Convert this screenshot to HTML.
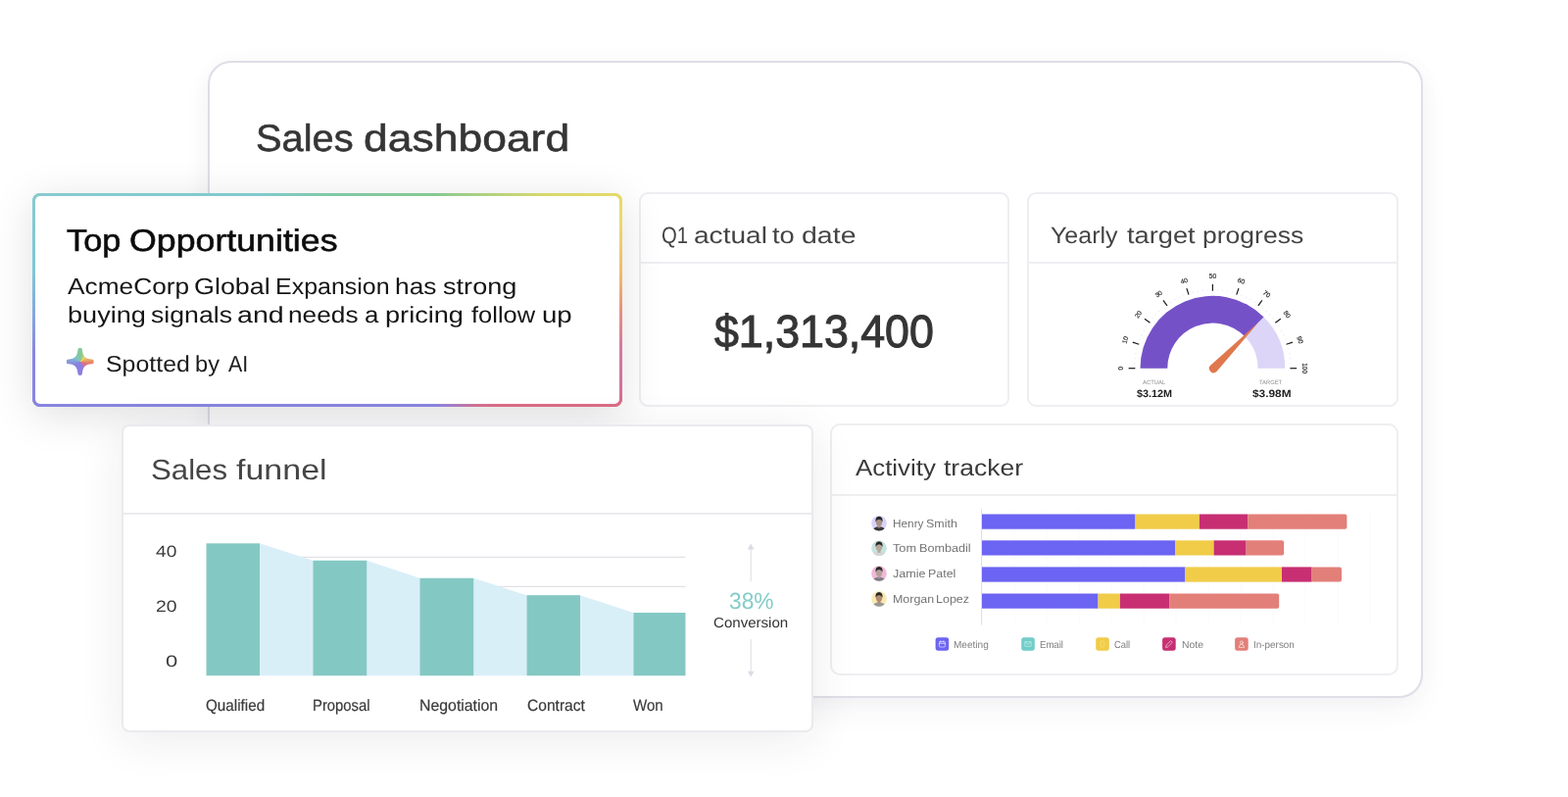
<!DOCTYPE html>
<html lang="en">
<head>
<meta charset="utf-8">
<title>Sales dashboard</title>
<style>
*{box-sizing:border-box;margin:0;padding:0}
html,body{width:1600px;height:813px;overflow:hidden;background:#fff}
body{font-family:"Liberation Sans",sans-serif;position:relative}
#stage{position:absolute;left:0;top:0;width:1600px;height:813px;overflow:hidden;background:#fff}
.t{position:absolute;white-space:pre;line-height:1;font-weight:400;transform-origin:0 0;font-family:"Liberation Sans",sans-serif;text-rendering:geometricPrecision}
.t span{position:relative;display:inline-block;white-space:pre;transform-origin:0 0}
.card{position:absolute;background:#fff;border:2px solid #eeeef2}
.hr{position:absolute;left:0;right:0;height:2px;background:#efeff2}
svg{position:absolute;left:0;top:0;overflow:visible}
svg text{font-family:"Liberation Sans",sans-serif}
#main{left:212.1px;top:61.7px;width:1239.6px;height:650.8px;border:2px solid #dedee7;border-radius:24px;box-shadow:0 12px 34px -6px rgba(50,50,90,.075),0 0 26px rgba(50,50,90,.022)}
#q1{left:652.4px;top:195.9px;width:378px;height:218.9px;border-radius:9px}
#yt{left:1047.9px;top:195.9px;width:379.1px;height:218.9px;border-radius:9px}
#at{left:847.4px;top:432.4px;width:579.3px;height:256.2px;border-radius:10px}
#sf{left:124.2px;top:432.5px;width:705.7px;height:314.4px;border-radius:8px;border-color:#eaeaee;box-shadow:0 8px 46px rgba(30,30,50,.085)}
#top{position:absolute;left:32.9px;top:197px;width:602.2px;height:218px;border-radius:8px;overflow:visible;
 box-shadow:0 8px 44px rgba(10,10,20,.125)}
#top b{position:absolute;display:block}
#top .bd{position:absolute;left:0;top:0;right:0;bottom:0;border-radius:8px;overflow:hidden;display:block}
#top .l{left:0;top:0;bottom:0;width:50%;background:linear-gradient(180deg,#86cbd0 0%,#80c6d6 36%,#84a6de 58%,#8886e2 74%,#8884e0 100%)}
#top .r{right:0;top:0;bottom:0;width:50%;background:linear-gradient(180deg,#e4da6a 0%,#eed86c 14%,#ecb86e 40%,#e6907e 55%,#d878a0 72%,#d272a0 88%,#da6c84 100%)}
#top .tp{left:0;top:0;right:0;height:8px;background:linear-gradient(90deg,#86cbd0 0%,#80cacf 38%,#80c9a6 50%,#86c992 68%,#b0d27e 77%,#d8d86c 87%,#e4da6a 100%)}
#top .bt{left:0;bottom:0;right:0;height:8px;background:linear-gradient(90deg,#8884e0 0%,#8a84e0 68%,#a87cc4 71.5%,#d07094 75%,#dc6c84 80%,#da6c84 100%)}
#top i{position:absolute;left:3px;top:3px;right:3px;bottom:3px;background:#fff;border-radius:5px;display:block}
#spark{position:absolute;left:67.6px;top:354.8px;width:28.2px;height:28.2px;
 background:conic-gradient(from 0deg at 50% 50%, #82c898 0deg, #9ccc88 18deg, #ecd466 45deg, #eab062 68deg, #e89a62 85deg, #e27c72 98deg, #dc7082 118deg, #c274a8 142deg, #8c7ee0 162deg, #8682e0 235deg, #8892e0 265deg, #82b4d2 290deg, #80c4c0 318deg, #82c8a4 345deg, #82c898 360deg);
 clip-path:path('M11.80 2.30 A2.3 2.3 0 0 1 16.40 2.30 C17.10 8.90 19.30 11.10 25.90 11.80 A2.3 2.3 0 0 1 25.90 16.40 C19.30 17.10 17.10 19.30 16.40 25.90 A2.3 2.3 0 0 1 11.80 25.90 C11.10 19.30 8.90 17.10 2.30 16.40 A2.3 2.3 0 0 1 2.30 11.80 C8.90 11.10 11.10 8.90 11.80 2.30 Z')}
</style>
</head>
<body>
<div id="stage">
<main>
<div class="card" id="main"></div>
<h1 class="t" style="left:0;top:123px;font-size:38.5px;color:#353535;-webkit-text-stroke:0.55px #353535;"><span style="left:260.76px;transform:scaleX(1.0337)">Sales </span><span style="left:263.69px;transform:scaleX(1.1550)">dashboard</span></h1>
<section aria-label="Q1 actual to date">
<div class="card" id="q1"><div class="hr" style="top:69px"></div></div>
<h2 class="t" style="left:0;top:230px;font-size:23.6px;color:#444;"><span style="left:674.89px;transform:scaleX(0.8600)">Q1 </span><span style="left:669.88px;transform:scaleX(1.1906)">actual </span><span style="left:680.59px;transform:scaleX(1.1576)">to </span><span style="left:683.73px;transform:scaleX(1.2084)">date</span></h2>
<div class="t" style="left:729.20px;top:315px;font-size:46.5px;color:#353535;-webkit-text-stroke:1.1px #353535;transform:scaleX(0.9617);">$1,313,400</div>
</section>
<section aria-label="Yearly target progress">
<div class="card" id="yt"><div class="hr" style="top:69px"></div></div>
<h2 class="t" style="left:0;top:230px;font-size:23.6px;color:#444;"><span style="left:1071.91px;transform:scaleX(1.0592)">Yearly </span><span style="left:1078.38px;transform:scaleX(1.1545)">target </span><span style="left:1088.44px;transform:scaleX(1.1241)">progress</span></h2>
<svg width="1600" height="813" viewBox="0 0 1600 813"><path d="M1163.50 375.70 A73.9 73.9 0 0 1 1289.66 323.44 L1270.00 343.10 A46.1 46.1 0 0 0 1191.30 375.70 Z" fill="#7551c8"/><path d="M1289.66 323.44 A73.9 73.9 0 0 1 1311.30 375.70 L1283.50 375.70 A46.1 46.1 0 0 0 1270.00 343.10 Z" fill="#dcd5f8"/><line x1="1158.40" y1="375.70" x2="1151.60" y2="375.70" stroke="#1a1a1a" stroke-width="1.2"/><circle cx="1157.56" cy="370.68" r="0.6" fill="#e4e4f0"/><circle cx="1158.03" cy="365.67" r="0.6" fill="#e4e4f0"/><circle cx="1158.82" cy="360.71" r="0.6" fill="#e4e4f0"/><circle cx="1159.91" cy="355.80" r="0.6" fill="#e4e4f0"/><line x1="1162.27" y1="351.29" x2="1155.80" y2="349.19" stroke="#1a1a1a" stroke-width="1.2"/><circle cx="1163.02" cy="346.25" r="0.6" fill="#e4e4f0"/><circle cx="1165.01" cy="341.64" r="0.6" fill="#e4e4f0"/><circle cx="1167.30" cy="337.16" r="0.6" fill="#e4e4f0"/><circle cx="1169.85" cy="332.83" r="0.6" fill="#e4e4f0"/><line x1="1173.49" y1="329.26" x2="1167.99" y2="325.27" stroke="#1a1a1a" stroke-width="1.2"/><circle cx="1175.76" cy="324.71" r="0.6" fill="#e4e4f0"/><circle cx="1179.08" cy="320.94" r="0.6" fill="#e4e4f0"/><circle cx="1182.64" cy="317.38" r="0.6" fill="#e4e4f0"/><circle cx="1186.41" cy="314.06" r="0.6" fill="#e4e4f0"/><line x1="1190.96" y1="311.79" x2="1186.97" y2="306.29" stroke="#1a1a1a" stroke-width="1.2"/><circle cx="1194.53" cy="308.15" r="0.6" fill="#e4e4f0"/><circle cx="1198.86" cy="305.60" r="0.6" fill="#e4e4f0"/><circle cx="1203.34" cy="303.31" r="0.6" fill="#e4e4f0"/><circle cx="1207.95" cy="301.32" r="0.6" fill="#e4e4f0"/><line x1="1212.99" y1="300.57" x2="1210.89" y2="294.10" stroke="#1a1a1a" stroke-width="1.2"/><circle cx="1217.50" cy="298.21" r="0.6" fill="#e4e4f0"/><circle cx="1222.41" cy="297.12" r="0.6" fill="#e4e4f0"/><circle cx="1227.37" cy="296.33" r="0.6" fill="#e4e4f0"/><circle cx="1232.38" cy="295.86" r="0.6" fill="#e4e4f0"/><line x1="1237.40" y1="296.70" x2="1237.40" y2="289.90" stroke="#1a1a1a" stroke-width="1.2"/><circle cx="1242.42" cy="295.86" r="0.6" fill="#e4e4f0"/><circle cx="1247.43" cy="296.33" r="0.6" fill="#e4e4f0"/><circle cx="1252.39" cy="297.12" r="0.6" fill="#e4e4f0"/><circle cx="1257.30" cy="298.21" r="0.6" fill="#e4e4f0"/><line x1="1261.81" y1="300.57" x2="1263.91" y2="294.10" stroke="#1a1a1a" stroke-width="1.2"/><circle cx="1266.85" cy="301.32" r="0.6" fill="#e4e4f0"/><circle cx="1271.46" cy="303.31" r="0.6" fill="#e4e4f0"/><circle cx="1275.94" cy="305.60" r="0.6" fill="#e4e4f0"/><circle cx="1280.27" cy="308.15" r="0.6" fill="#e4e4f0"/><line x1="1283.84" y1="311.79" x2="1287.83" y2="306.29" stroke="#1a1a1a" stroke-width="1.2"/><circle cx="1288.39" cy="314.06" r="0.6" fill="#e4e4f0"/><circle cx="1292.16" cy="317.38" r="0.6" fill="#e4e4f0"/><circle cx="1295.72" cy="320.94" r="0.6" fill="#e4e4f0"/><circle cx="1299.04" cy="324.71" r="0.6" fill="#e4e4f0"/><line x1="1301.31" y1="329.26" x2="1306.81" y2="325.27" stroke="#1a1a1a" stroke-width="1.2"/><circle cx="1304.95" cy="332.83" r="0.6" fill="#e4e4f0"/><circle cx="1307.50" cy="337.16" r="0.6" fill="#e4e4f0"/><circle cx="1309.79" cy="341.64" r="0.6" fill="#e4e4f0"/><circle cx="1311.78" cy="346.25" r="0.6" fill="#e4e4f0"/><line x1="1312.53" y1="351.29" x2="1319.00" y2="349.19" stroke="#1a1a1a" stroke-width="1.2"/><circle cx="1314.89" cy="355.80" r="0.6" fill="#e4e4f0"/><circle cx="1315.98" cy="360.71" r="0.6" fill="#e4e4f0"/><circle cx="1316.77" cy="365.67" r="0.6" fill="#e4e4f0"/><circle cx="1317.24" cy="370.68" r="0.6" fill="#e4e4f0"/><line x1="1316.40" y1="375.70" x2="1323.20" y2="375.70" stroke="#1a1a1a" stroke-width="1.2"/><text x="1145.90" y="375.70" font-size="6.6" fill="#1c1c1c" stroke="#1c1c1c" stroke-width="0.15" text-anchor="middle" transform="rotate(-90.0 1145.90 375.70)">0</text><text x="1150.38" y="347.42" font-size="6.6" fill="#1c1c1c" stroke="#1c1c1c" stroke-width="0.15" text-anchor="middle" transform="rotate(-72.0 1150.38 347.42)">10</text><text x="1163.37" y="321.92" font-size="6.6" fill="#1c1c1c" stroke="#1c1c1c" stroke-width="0.15" text-anchor="middle" transform="rotate(-54.0 1163.37 321.92)">20</text><text x="1183.62" y="301.67" font-size="6.6" fill="#1c1c1c" stroke="#1c1c1c" stroke-width="0.15" text-anchor="middle" transform="rotate(-36.0 1183.62 301.67)">30</text><text x="1209.12" y="288.68" font-size="6.6" fill="#1c1c1c" stroke="#1c1c1c" stroke-width="0.15" text-anchor="middle" transform="rotate(-18.0 1209.12 288.68)">40</text><text x="1237.40" y="284.20" font-size="6.6" fill="#1c1c1c" stroke="#1c1c1c" stroke-width="0.15" text-anchor="middle" transform="rotate(0.0 1237.40 284.20)">50</text><text x="1265.68" y="288.68" font-size="6.6" fill="#1c1c1c" stroke="#1c1c1c" stroke-width="0.15" text-anchor="middle" transform="rotate(18.0 1265.68 288.68)">60</text><text x="1291.18" y="301.67" font-size="6.6" fill="#1c1c1c" stroke="#1c1c1c" stroke-width="0.15" text-anchor="middle" transform="rotate(36.0 1291.18 301.67)">70</text><text x="1311.43" y="321.92" font-size="6.6" fill="#1c1c1c" stroke="#1c1c1c" stroke-width="0.15" text-anchor="middle" transform="rotate(54.0 1311.43 321.92)">80</text><text x="1324.42" y="347.42" font-size="6.6" fill="#1c1c1c" stroke="#1c1c1c" stroke-width="0.15" text-anchor="middle" transform="rotate(72.0 1324.42 347.42)">90</text><text x="1328.90" y="375.70" font-size="6.6" fill="#1c1c1c" stroke="#1c1c1c" stroke-width="0.15" text-anchor="middle" transform="rotate(90.0 1328.90 375.70)">100</text><path d="M1241.48 379.08 A4.5 4.5 0 0 1 1235.12 372.72 L1284.07 329.03 Z" fill="#e0784e"/></svg>
<div class="t" style="left:1165.52px;top:388px;font-size:6.1px;color:#909090;transform:scaleX(0.9688);">ACTUAL</div>
<div class="t" style="left:1159.89px;top:397px;font-size:10.6px;color:#1e1e1e;font-weight:700;transform:scaleX(1.0219);">$3.12M</div>
<div class="t" style="left:1285.49px;top:388px;font-size:6.1px;color:#909090;transform:scaleX(0.9538);">TARGET</div>
<div class="t" style="left:1277.73px;top:397px;font-size:10.6px;color:#1e1e1e;font-weight:700;transform:scaleX(1.1190);">$3.98M</div>
</section>
<section aria-label="Activity tracker">
<div class="card" id="at"><div class="hr" style="top:69.2px"></div></div>
<h2 class="t" style="left:0;top:466px;font-size:23.4px;color:#3a3a3a;"><span style="left:872.50px;transform:scaleX(1.1058)">Activity </span><span style="left:882.10px;transform:scaleX(1.1332)">tracker</span></h2>
<svg width="1600" height="813" viewBox="0 0 1600 813"><line x1="1001.6" y1="519.5" x2="1001.6" y2="637.5" stroke="#dcdce4" stroke-width="1"/><line x1="1035" y1="519.5" x2="1035" y2="637.5" stroke="#fafafd" stroke-width="1"/><line x1="1068" y1="519.5" x2="1068" y2="637.5" stroke="#fafafd" stroke-width="1"/><line x1="1101" y1="519.5" x2="1101" y2="637.5" stroke="#fafafd" stroke-width="1"/><line x1="1134" y1="519.5" x2="1134" y2="637.5" stroke="#fafafd" stroke-width="1"/><line x1="1167" y1="519.5" x2="1167" y2="637.5" stroke="#fafafd" stroke-width="1"/><line x1="1200" y1="519.5" x2="1200" y2="637.5" stroke="#fafafd" stroke-width="1"/><line x1="1233" y1="519.5" x2="1233" y2="637.5" stroke="#fafafd" stroke-width="1"/><line x1="1266" y1="519.5" x2="1266" y2="637.5" stroke="#fafafd" stroke-width="1"/><line x1="1299" y1="519.5" x2="1299" y2="637.5" stroke="#fafafd" stroke-width="1"/><line x1="1332" y1="519.5" x2="1332" y2="637.5" stroke="#fafafd" stroke-width="1"/><line x1="1365" y1="519.5" x2="1365" y2="637.5" stroke="#fafafd" stroke-width="1"/><line x1="1398" y1="519.5" x2="1398" y2="637.5" stroke="#fafafd" stroke-width="1"/><rect x="1002.0" y="524.5" width="156.5" height="15.2" fill="#6c64f2"/><rect x="1158.5" y="524.5" width="65.4" height="15.2" fill="#f0cc48"/><rect x="1223.9" y="524.5" width="49.3" height="15.2" fill="#c72f72"/><path d="M1273.2 524.5 H1372.4 a2 2 0 0 1 2 2 V537.7 a2 2 0 0 1 -2 2 H1273.2 Z" fill="#e37f79"/><g><clipPath id="av524"><circle cx="897" cy="533.7" r="7.8"/></clipPath><circle cx="897" cy="533.7" r="7.8" fill="#d9d2fa"/><g clip-path="url(#av524)"><ellipse cx="897" cy="542.3" rx="6.8" ry="5.2" fill="#38383c"/><rect x="895.5" y="534.7" width="3" height="3.6" fill="#a89486"/><ellipse cx="897" cy="532.6" rx="3.2" ry="4" fill="#a89486"/><path d="M893.5 532.5 q-0.6 -5.6 3.5 -5.8 q4.1 0.2 3.5 5.8 q-0.9 -2.6 -3.5 -2.7 q-2.6 0.1 -3.5 2.7z" fill="#28282a"/></g></g><rect x="1002.0" y="551.3" width="197.4" height="15.2" fill="#6c64f2"/><rect x="1199.4" y="551.3" width="39.2" height="15.2" fill="#f0cc48"/><rect x="1238.6" y="551.3" width="33.0" height="15.2" fill="#c72f72"/><path d="M1271.6 551.3 H1308.1 a2 2 0 0 1 2 2 V564.5 a2 2 0 0 1 -2 2 H1271.6 Z" fill="#e37f79"/><g><clipPath id="av551"><circle cx="897" cy="559.2" r="7.8"/></clipPath><circle cx="897" cy="559.2" r="7.8" fill="#c4e4e0"/><g clip-path="url(#av551)"><ellipse cx="897" cy="567.8" rx="6.8" ry="5.2" fill="#d4d4d6"/><rect x="895.5" y="560.2" width="3" height="3.6" fill="#b8a69a"/><ellipse cx="897" cy="558.1" rx="3.2" ry="4" fill="#b8a69a"/><path d="M893.5 558.0 q-0.6 -5.6 3.5 -5.8 q4.1 0.2 3.5 5.8 q-0.9 -2.6 -3.5 -2.7 q-2.6 0.1 -3.5 2.7z" fill="#28282a"/></g></g><rect x="1002.0" y="578.4" width="207.4" height="15.2" fill="#6c64f2"/><rect x="1209.4" y="578.4" width="98.6" height="15.2" fill="#f0cc48"/><rect x="1308.0" y="578.4" width="30.6" height="15.2" fill="#c72f72"/><path d="M1338.6 578.4 H1367.0 a2 2 0 0 1 2 2 V591.6 a2 2 0 0 1 -2 2 H1338.6 Z" fill="#e37f79"/><g><clipPath id="av578"><circle cx="897" cy="585.0" r="7.8"/></clipPath><circle cx="897" cy="585.0" r="7.8" fill="#f0b8d8"/><g clip-path="url(#av578)"><ellipse cx="897" cy="593.6" rx="6.8" ry="5.2" fill="#7c7c82"/><rect x="895.5" y="586.0" width="3" height="3.6" fill="#b4a298"/><ellipse cx="897" cy="583.9" rx="3.2" ry="4" fill="#b4a298"/><path d="M893.5 583.8 q-0.6 -5.6 3.5 -5.8 q4.1 0.2 3.5 5.8 q-0.9 -2.6 -3.5 -2.7 q-2.6 0.1 -3.5 2.7z" fill="#28282a"/></g></g><rect x="1002.0" y="605.5" width="118.5" height="15.2" fill="#6c64f2"/><rect x="1120.5" y="605.5" width="22.4" height="15.2" fill="#f0cc48"/><rect x="1142.9" y="605.5" width="50.2" height="15.2" fill="#c72f72"/><path d="M1193.1 605.5 H1303.2 a2 2 0 0 1 2 2 V618.7 a2 2 0 0 1 -2 2 H1193.1 Z" fill="#e37f79"/><g><clipPath id="av605"><circle cx="897" cy="610.9" r="7.8"/></clipPath><circle cx="897" cy="610.9" r="7.8" fill="#f8eab0"/><g clip-path="url(#av605)"><ellipse cx="897" cy="619.5" rx="6.8" ry="5.2" fill="#98989c"/><rect x="895.5" y="611.9" width="3" height="3.6" fill="#b08c70"/><ellipse cx="897" cy="609.8" rx="3.2" ry="4" fill="#b08c70"/><path d="M893.5 609.7 q-0.6 -5.6 3.5 -5.8 q4.1 0.2 3.5 5.8 q-0.9 -2.6 -3.5 -2.7 q-2.6 0.1 -3.5 2.7z" fill="#28282a"/></g></g></svg>
<div class="t" style="left:0;top:529px;font-size:11.8px;color:#747474;"><span style="left:910.50px;transform:scaleX(1.0007)">Henry </span><span style="left:910.31px;transform:scaleX(1.0575)">Smith</span></div>
<div class="t" style="left:0;top:554px;font-size:11.8px;color:#747474;"><span style="left:910.90px;transform:scaleX(1.0790)">Tom </span><span style="left:912.42px;transform:scaleX(1.0705)">Bombadil</span></div>
<div class="t" style="left:0;top:580px;font-size:11.8px;color:#747474;"><span style="left:910.83px;transform:scaleX(1.0630)">Jamie </span><span style="left:911.75px;transform:scaleX(1.0526)">Patel</span></div>
<div class="t" style="left:0;top:606px;font-size:11.8px;color:#747474;"><span style="left:910.50px;transform:scaleX(1.0532)">Morgan </span><span style="left:911.72px;transform:scaleX(1.0577)">Lopez</span></div>
<svg width="1600" height="813" viewBox="0 0 1600 813" fill="none" stroke="rgba(255,255,255,.72)" stroke-width="0.8" stroke-linecap="round" stroke-linejoin="round"><rect x="954.6" y="650.2" width="13.6" height="13.5" rx="2.6" fill="#6c64f2" stroke="none"/><rect x="958.4" y="654.6" width="6" height="5.4" rx="0.8"/><path d="M958.4 656.4h6M959.9 653.7v1.6M962.9 653.7v1.6"/><rect x="1042.2" y="650.2" width="13.6" height="13.5" rx="2.6" fill="#72cdc7" stroke="none"/><rect x="1045.8" y="654.7" width="6.4" height="4.6" rx="0.6" stroke="#b9ece8"/><path d="M1046.0 655.0l3 2.2l3 -2.2" stroke="#b9ece8"/><rect x="1118.2" y="650.2" width="13.6" height="13.5" rx="2.6" fill="#f0cc48" stroke="none"/><rect x="1123.2" y="654.0" width="3.6" height="6" rx="0.7" stroke="#f6dc7c"/><rect x="1186.1" y="650.2" width="13.6" height="13.5" rx="2.6" fill="#c72f72" stroke="none"/><path d="M1189.7 660.2l0.5 -2.2l4.4 -4.4l1.7 1.7l-4.4 4.4z"/><rect x="1260.1" y="650.2" width="13.6" height="13.5" rx="2.6" fill="#e37f79" stroke="none"/><circle cx="1266.9" cy="655.4" r="1.5"/><path d="M1264.3 660.0q0 -2.8 2.6 -2.8q2.6 0 2.6 2.8z"/></svg>
<div class="t" style="left:973.33px;top:654px;font-size:10.3px;color:#808080;transform:scaleX(0.9756);">Meeting</div>
<div class="t" style="left:1061.49px;top:654px;font-size:10.3px;color:#808080;transform:scaleX(0.9302);">Email</div>
<div class="t" style="left:1137.27px;top:654px;font-size:10.3px;color:#808080;transform:scaleX(0.9106);">Call</div>
<div class="t" style="left:1205.70px;top:654px;font-size:10.3px;color:#808080;transform:scaleX(1.0161);">Note</div>
<div class="t" style="left:1278.89px;top:654px;font-size:10.3px;color:#808080;transform:scaleX(0.9625);">In-person</div>
</section>
<section aria-label="Top Opportunities">
<div id="top"><span class="bd"><b class="l"></b><b class="r"></b><b class="tp"></b><b class="bt"></b><i></i></span></div>
<h2 class="t" style="left:0;top:230px;font-size:31.5px;color:#0c0c0c;-webkit-text-stroke:0.55px #0c0c0c;"><span style="left:68.43px;transform:scaleX(1.0890)">Top </span><span style="left:72.78px;transform:scaleX(1.1342)">Opportunities</span></h2>
<p class="t" style="left:0;top:281px;font-size:23.2px;color:#151515;"><span style="left:68.75px;transform:scaleX(1.1330)">AcmeCorp </span><span style="left:81.71px;transform:scaleX(1.1604)">Global </span><span style="left:91.55px;transform:scaleX(1.0766)">Expansion </span><span style="left:99.10px;transform:scaleX(1.1343)">has </span><span style="left:104.29px;transform:scaleX(1.1702)">strong</span></p>
<p class="t" style="left:0;top:310px;font-size:23.2px;color:#151515;"><span style="left:68.53px;transform:scaleX(1.1702)">buying </span><span style="left:79.04px;transform:scaleX(1.1494)">signals </span><span style="left:88.39px;transform:scaleX(1.2340)">and </span><span style="left:95.41px;transform:scaleX(1.1318)">needs </span><span style="left:104.15px;transform:scaleX(1.1173)">a </span><span style="left:105.44px;transform:scaleX(1.1708)">pricing </span><span style="left:118.62px;transform:scaleX(1.0982)">follow </span><span style="left:125.47px;transform:scaleX(1.1919)">up</span></p>
<div id="spark"></div>
<p class="t" style="left:0;top:360px;font-size:23.0px;color:#1c1c1c;"><span style="left:107.65px;transform:scaleX(1.0824)">Spotted </span><span style="left:113.40px;transform:scaleX(1.0275)">by </span><span style="left:116.59px;transform:scaleX(0.9289)">AI</span></p>
</section>
<section aria-label="Sales funnel">
<div class="card" id="sf"><div class="hr" style="top:88.2px;background:#ececf0"></div></div>
<h2 class="t" style="left:0;top:466px;font-size:29px;color:#464646;"><span style="left:154.04px;transform:scaleX(1.0757)">Sales </span><span style="left:160.02px;transform:scaleX(1.1716)">funnel</span></h2>
<svg width="1600" height="813" viewBox="0 0 1600 813"><path d="M210.5 568.3H699.4M210.5 598.3H699.4" stroke="#e2e2e6" stroke-width="1.2" fill="none"/><path d="M265.0 554.3 L319.5 571.8 L374.2 571.8 L428.5 589.8 L483.2 589.8 L537.6 607.2 L592.0 607.2 L646.5 625.0 L699.4 625.0 L699.4 689.2 L265.0 689.2 Z" fill="#d9eff8"/><rect x="210.5" y="554.3" width="54.5" height="134.9" fill="#84c8c3"/><rect x="319.5" y="571.8" width="54.7" height="117.4" fill="#84c8c3"/><rect x="428.5" y="589.8" width="54.7" height="99.4" fill="#84c8c3"/><rect x="537.6" y="607.2" width="54.4" height="82.0" fill="#84c8c3"/><rect x="646.5" y="625.0" width="52.9" height="64.2" fill="#84c8c3"/><path d="M766.2 558V593.2M766.2 652V687" stroke="#e0e0e8" stroke-width="1.1" fill="none"/><path d="M766.2 554.6l3.4 5.8h-6.8zM766.2 690.6l3.4 -5.8h-6.8z" fill="#dcdce6"/></svg>
<div class="t" style="left:158.93px;top:555px;font-size:16.4px;color:#3c3c3c;transform:scaleX(1.1707);">40</div>
<div class="t" style="left:159.00px;top:611px;font-size:16.4px;color:#3c3c3c;transform:scaleX(1.1822);">20</div>
<div class="t" style="left:169.47px;top:667px;font-size:16.4px;color:#3c3c3c;transform:scaleX(1.3450);">0</div>
<div class="t" style="left:209.74px;top:712px;font-size:16.4px;color:#3a3a3a;-webkit-text-stroke:0.2px #3a3a3a;transform:scaleX(0.9291);">Qualified</div>
<div class="t" style="left:318.73px;top:712px;font-size:16.4px;color:#3a3a3a;-webkit-text-stroke:0.2px #3a3a3a;transform:scaleX(0.9055);">Proposal</div>
<div class="t" style="left:428.45px;top:712px;font-size:16.4px;color:#3a3a3a;-webkit-text-stroke:0.2px #3a3a3a;transform:scaleX(0.9669);">Negotiation</div>
<div class="t" style="left:537.53px;top:712px;font-size:16.4px;color:#3a3a3a;-webkit-text-stroke:0.2px #3a3a3a;transform:scaleX(0.9501);">Contract</div>
<div class="t" style="left:646.46px;top:712px;font-size:16.4px;color:#3a3a3a;-webkit-text-stroke:0.2px #3a3a3a;transform:scaleX(0.9192);">Won</div>
<div class="t" style="left:743.50px;top:603px;font-size:23.6px;color:#84ccc8;transform:scaleX(0.9648);">38%</div>
<div class="t" style="left:727.88px;top:629px;font-size:14.5px;color:#333;transform:scaleX(1.0386);">Conversion</div>
</section>
</main>
</div>
</body>
</html>
